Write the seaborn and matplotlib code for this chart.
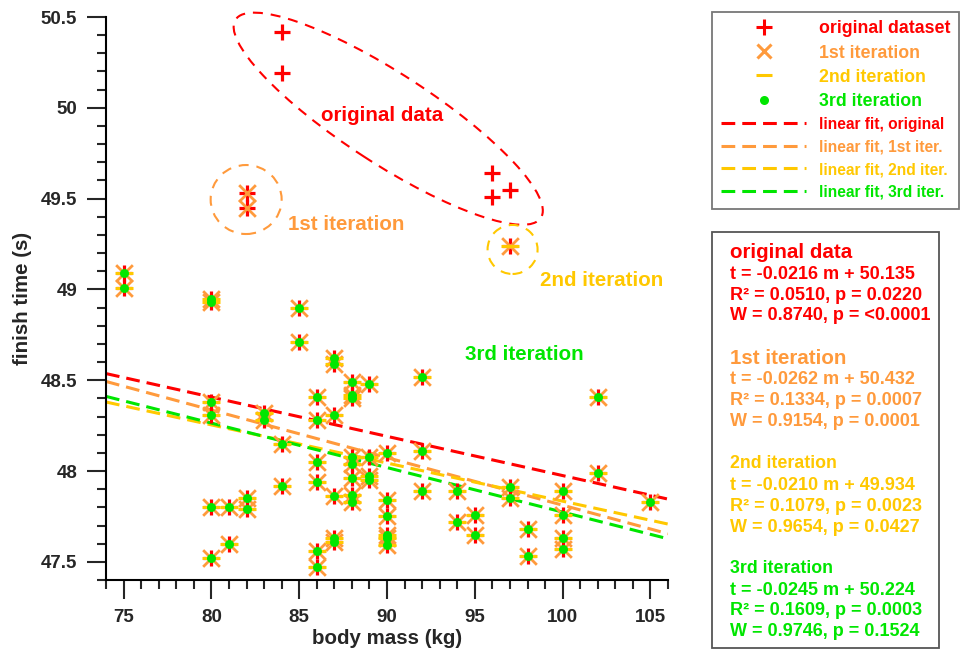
import numpy as np
import matplotlib
matplotlib.use("Agg")
import matplotlib.pyplot as plt
import seaborn as sns
from matplotlib.lines import Line2D
from matplotlib.patches import Ellipse, Rectangle
from matplotlib.transforms import ScaledTranslation
from matplotlib.ticker import MultipleLocator

# points kept in every iteration
core_mass = [75, 75,
             80, 80, 80, 80, 80, 80,
             81, 81, 82, 82, 83, 83, 84, 84, 85, 85,
             86, 86, 86, 86, 86, 86,
             87, 87, 87, 87, 87, 87,
             88, 88, 88, 88, 88, 88, 88, 88,
             89, 89, 89, 89,
             90, 90, 90, 90, 90, 90,
             92, 92, 92, 94, 94, 95, 95, 97, 97, 98, 98,
             100, 100, 100, 100, 102, 102, 105]
core_time = [49.09, 49.01,
             48.95, 48.93, 48.38, 48.31, 47.80, 47.52,
             47.80, 47.60, 47.85, 47.79, 48.32, 48.28, 48.15, 47.92, 48.90, 48.71,
             48.41, 48.28, 48.05, 47.94, 47.56, 47.47,
             48.62, 48.59, 48.31, 47.86, 47.63, 47.61,
             48.49, 48.42, 48.40, 48.08, 48.04, 47.96, 47.87, 47.83,
             48.48, 48.08, 47.97, 47.95,
             48.10, 47.84, 47.75, 47.65, 47.63, 47.59,
             48.52, 48.11, 47.89, 47.89, 47.72, 47.76, 47.65, 47.91, 47.85, 47.68, 47.53,
             47.89, 47.76, 47.63, 47.57, 48.41, 47.99, 47.83]

# outliers removed after each step
out1_mass = [84, 84, 96, 96, 97]
out1_time = [50.42, 50.19, 49.64, 49.51, 49.55]
out2_mass = [82, 82]
out2_time = [49.53, 49.45]
out3_mass = [97]
out3_time = [49.24]

fit_slope = [-0.0216, -0.0262, -0.0210, -0.0245]
fit_icept = [50.135, 50.432, 49.934, 50.224]

series_labels = ["original dataset", "1st iteration", "2nd iteration", "3rd iteration"]
fit_labels = ["linear fit, original", "linear fit, 1st iter.",
              "linear fit, 2nd iter.", "linear fit, 3rd iter."]
stat_heads = ["original data", "1st iteration", "2nd iteration", "3rd iteration"]
stat_eq = ["t = -0.0216 m + 50.135", "t = -0.0262 m + 50.432",
           "t = -0.0210 m + 49.934", "t = -0.0245 m + 50.224"]
stat_r2 = ["R² = 0.0510, p = 0.0220", "R² = 0.1334, p = 0.0007",
           "R² = 0.1079, p = 0.0023", "R² = 0.1609, p = 0.0003"]
stat_w = ["W = 0.8740, p = <0.0001", "W = 0.9154, p = 0.0001",
          "W = 0.9654, p = 0.0427", "W = 0.9746, p = 0.1524"]

x_ticks = [75, 80, 85, 90, 95, 100, 105]
y_ticks = [47.5, 48, 48.5, 49, 49.5, 50, 50.5]
y_tick_labels = ["47.5", "48", "48.5", "49", "49.5", "50", "50.5"]
xlim = (74, 106)
ylim = (47.4, 50.5)

RED = "#FF0000"
ORANGE = "#FF9A3C"
YELLOW = "#FFC800"
GREEN = "#00E600"
colors = [RED, ORANGE, YELLOW, GREEN]

it3_m = core_mass
it3_t = core_time
it2_m = it3_m + out3_mass
it2_t = it3_t + out3_time
it1_m = it2_m + out2_mass
it1_t = it2_t + out2_time
orig_m = it1_m + out1_mass
orig_t = it1_t + out1_time

sns.set_style("ticks")
plt.rcParams["font.family"] = ["Liberation Sans", "DejaVu Sans"]
plt.rcParams["font.weight"] = "bold"

fig = plt.figure(figsize=(9.63, 6.53), dpi=100)
ax = fig.add_axes([106 / 963, 1 - 580 / 653, (668 - 106) / 963, (580 - 17) / 653])

dash = (0, (4.5, 2.3))
xs = np.array(xlim, dtype=float)
for k in range(4):
    sns.lineplot(x=xs, y=fit_slope[k] * xs + fit_icept[k], color=colors[k],
                 linestyle=dash, linewidth=2.2, ax=ax, zorder=2)

sns.scatterplot(x=orig_m, y=orig_t, marker="+", color=RED, s=144, linewidth=2.3, ax=ax, zorder=3)
sns.scatterplot(x=it1_m, y=it1_t, marker="x", color=ORANGE, s=144, linewidth=2.0, ax=ax, zorder=4)
sns.scatterplot(x=it2_m, y=it2_t, marker="_", color=YELLOW, s=169, linewidth=2.2, ax=ax, zorder=5)
sns.scatterplot(x=it3_m, y=it3_t, marker="o", color=GREEN, s=42, linewidth=0, ax=ax, zorder=6)

ax.set_xlim(*xlim)
ax.set_ylim(*ylim)
ax.set_xticks(x_ticks)
ax.set_xticklabels([str(v) for v in x_ticks])
ax.set_yticks(y_ticks)
ax.set_yticklabels(y_tick_labels)
ax.xaxis.set_minor_locator(MultipleLocator(1))
ax.yaxis.set_minor_locator(MultipleLocator(0.1))
ax.tick_params(which="major", direction="out", length=13.7, width=1.5, labelsize=13.5, pad=7)
ax.tick_params(which="minor", direction="out", length=6.5, width=1.5)
for lab in ax.get_xticklabels() + ax.get_yticklabels():
    lab.set_fontweight("bold")
for sp in ["top", "right"]:
    ax.spines[sp].set_visible(False)
for sp in ["left", "bottom"]:
    ax.spines[sp].set_linewidth(1.5)
    ax.spines[sp].set_color("black")
ax.set_xlabel("body mass (kg)", fontsize=14.8, fontweight="bold", labelpad=2)
ax.set_ylabel("finish time (s)", fontsize=14.8, fontweight="bold", labelpad=6)

# annotation shapes
def ring(cx, cy, w, h, ang, col):
    e = Ellipse((0, 0), w, h, angle=ang, fill=False, edgecolor=col, lw=1.5,
                linestyle=(0, (4.8, 3.8)), clip_on=False,
                transform=fig.dpi_scale_trans + ScaledTranslation(cx, cy, ax.transData))
    ax.add_artist(e)

ring(90.07, 49.94, 3.64, 0.90, -33.0, RED)
ring(81.98, 49.495, 0.71, 0.69, 0, ORANGE)
ring(97.15, 49.22, 0.50, 0.49, 0, YELLOW)

ax.text(89.7, 49.96, "original data", color=RED, fontsize=14.8, fontweight="bold", ha="center", va="center")
ax.text(87.67, 49.36, "1st iteration", color=ORANGE, fontsize=14.8, fontweight="bold", ha="center", va="center")
ax.text(102.2, 49.05, "2nd iteration", color=YELLOW, fontsize=14.8, fontweight="bold", ha="center", va="center")
ax.text(97.84, 48.64, "3rd iteration", color=GREEN, fontsize=14.8, fontweight="bold", ha="center", va="center")

# legend
handles = [
    Line2D([], [], color=RED, marker="+", linestyle="none", markersize=12, markeredgewidth=2.2),
    Line2D([], [], color=ORANGE, marker="x", linestyle="none", markersize=9.5, markeredgewidth=2.2),
    Line2D([], [], color=YELLOW, marker="_", linestyle="none", markersize=12, markeredgewidth=2.2),
    Line2D([], [], color=GREEN, marker="o", linestyle="none", markersize=6.5, markeredgewidth=0),
]
handles += [Line2D([], [], color=c, linestyle=dash, linewidth=2.2) for c in colors]
leg = fig.legend(handles, series_labels + fit_labels, loc="upper left",
                 bbox_to_anchor=(712 / 963, 1 - 11.5 / 653), borderaxespad=0,
                 fontsize=12.8, handlelength=4.8, handletextpad=0.7, labelspacing=0.4,
                 borderpad=0.5, fancybox=False, frameon=True, numpoints=1)
leg.get_frame().set_edgecolor("#555555")
leg.get_frame().set_linewidth(1.3)
for i, t in enumerate(leg.get_texts()):
    t.set_color(colors[i % 4])
    t.set_fontweight("bold")
    if i >= 4:
        t.set_fontsize(11.2)

# statistics box
fig.add_artist(Rectangle((712 / 963, 1 - 648 / 653), (939 - 712) / 963, (648 - 232) / 653,
                         transform=fig.transFigure, fill=False, edgecolor="#555555", lw=1.3))
head_y = [252.7, 358, 464, 568.3]
head_size = [14.8, 14.8, 12.8, 12.8]
for k in range(4):
    y0 = head_y[k]
    fig.text(730 / 963, 1 - y0 / 653, stat_heads[k], color=colors[k], fontsize=head_size[k],
             fontweight="bold", va="center", ha="left")
    for j, s in enumerate([stat_eq[k], stat_r2[k], stat_w[k]]):
        yy = y0 + 22 + 20.5 * j
        fig.text(730 / 963, 1 - yy / 653, s, color=colors[k], fontsize=13,
                 fontweight="bold", va="center", ha="left")

fig.savefig("out.png", dpi=100)
